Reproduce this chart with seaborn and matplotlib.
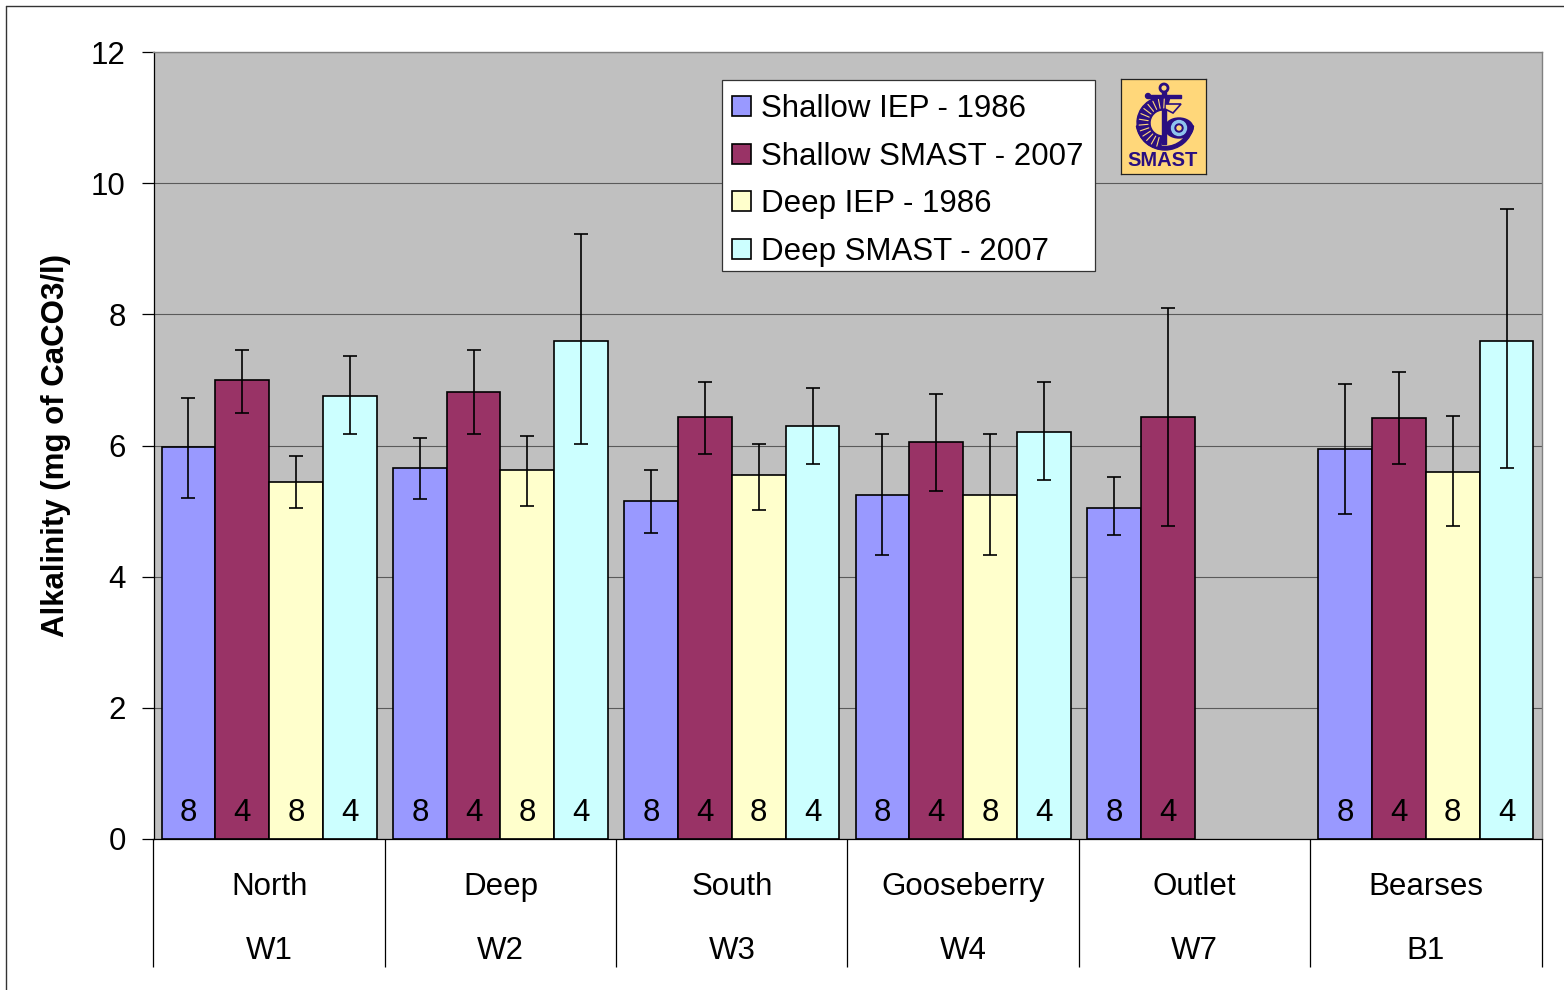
import numpy as np
import pandas as pd
import seaborn as sns
import matplotlib
matplotlib.use("Agg")
import matplotlib.pyplot as plt
from matplotlib.lines import Line2D
from matplotlib.patches import Circle, Wedge, Rectangle, Ellipse, Polygon

W, H = 1564, 990
sites = ["North\nW1", "Deep\nW2", "South\nW3", "Gooseberry\nW4", "Outlet\nW7", "Bearses\nB1"]
series = ["Shallow IEP - 1986", "Shallow SMAST - 2007", "Deep IEP - 1986", "Deep SMAST - 2007"]
colors = ["#9999FF", "#993366", "#FFFFCC", "#CCFFFF"]
nan = float("nan")
shallow_iep = [5.97, 5.66, 5.15, 5.24, 5.05, 5.94]
shallow_smast = [7.00, 6.82, 6.43, 6.05, 6.43, 6.42]
deep_iep = [5.44, 5.63, 5.55, 5.24, nan, 5.60]
deep_smast = [6.76, 7.60, 6.30, 6.20, nan, 7.60]
shallow_iep_hi = [6.73, 6.12, 5.63, 6.18, 5.52, 6.94]
shallow_smast_hi = [7.46, 7.46, 6.97, 6.79, 8.10, 7.12]
deep_iep_hi = [5.84, 6.15, 6.03, 6.18, nan, 6.45]
deep_smast_hi = [7.36, 9.23, 6.88, 6.97, nan, 9.60]
shallow_iep_lo = [5.20, 5.18, 4.66, 4.33, 4.63, 4.96]
shallow_smast_lo = [6.50, 6.17, 5.87, 5.30, 4.78, 5.72]
deep_iep_lo = [5.05, 5.08, 5.02, 4.33, nan, 4.78]
deep_smast_lo = [6.17, 6.03, 5.72, 5.47, nan, 5.66]
counts = ["8", "4", "8", "4"]

values = [shallow_iep, shallow_smast, deep_iep, deep_smast]
highs = [shallow_iep_hi, shallow_smast_hi, deep_iep_hi, deep_smast_hi]
lows = [shallow_iep_lo, shallow_smast_lo, deep_iep_lo, deep_smast_lo]

df = pd.DataFrame({
    "site": np.tile(sites, len(series)),
    "series": np.repeat(series, len(sites)),
    "value": np.concatenate(values),
})

sns.set_theme(style="white")
plt.rcParams["font.family"] = ["Liberation Sans", "DejaVu Sans"]
plt.rcParams["text.color"] = "black"
plt.rcParams["axes.labelcolor"] = "black"
plt.rcParams["xtick.labelcolor"] = "black"
plt.rcParams["ytick.labelcolor"] = "black"
FS = 22.5
fig = plt.figure(figsize=(W / 100, H / 100), dpi=100, facecolor="white")
ax = fig.add_axes([153.5 / W, 1 - 839 / H, (1542 - 154) / W, (839 - 52) / H])
ax.set_facecolor("#C0C0C0")

sns.barplot(data=df, x="site", y="value", hue="series", order=sites, hue_order=series,
            palette=colors, width=0.93, gap=0, saturation=1, errorbar=None,
            edgecolor="black", linewidth=1.2, ax=ax, zorder=2, legend=True)

for cont, val, hi, lo, n in zip(ax.containers, values, highs, lows, counts):
    bars = [p for p in cont.patches if np.isfinite(p.get_height()) and p.get_height() > 0]
    present = [i for i, v in enumerate(val) if np.isfinite(v)]
    for p, i in zip(bars, present):
        xc = p.get_x() + p.get_width() / 2
        ax.errorbar(xc, val[i], yerr=[[val[i] - lo[i]], [hi[i] - val[i]]], color="black",
                    elinewidth=1.2, capsize=5, capthick=1.2, zorder=3)
        ax.text(xc, 0.39, n, ha="center", va="center", fontsize=FS, color="black", zorder=4)

ax.set_xlim(-0.5, len(sites) - 0.5)
ax.set_ylim(0, 12)
ax.set_yticks(range(0, 13, 2))
ax.yaxis.grid(True, color="#5A5A5A", linewidth=0.8)
ax.set_axisbelow(True)
ax.set_xlabel("")
ax.set_ylabel("Alkalinity (mg of CaCO3/l)", fontsize=FS, fontweight="bold", labelpad=14)
ax.tick_params(axis="y", which="major", left=True, length=9, width=0.9, color="black",
               labelsize=FS, pad=11)
ax.set_xticks(np.arange(-0.5, len(sites)), minor=True)
ax.tick_params(axis="x", which="minor", bottom=True, length=92, width=0.9, color="black")
ax.tick_params(axis="x", which="major", bottom=False, labelsize=FS, pad=18)
for t in ax.get_xticklabels():
    t.set_linespacing(2.45)
for s in ["top", "right"]:
    ax.spines[s].set_color("#808080")
    ax.spines[s].set_linewidth(1.0)
ax.spines["left"].set_color("black")
ax.spines["bottom"].set_color("black")
for s in ["left", "bottom"]:
    ax.spines[s].set_linewidth(0.9)

# legend box is drawn apart from the entries so its height can match the reference
ax.add_patch(Rectangle((722 / W, 1 - 271 / H), 373 / W, 191 / H, transform=fig.transFigure,
                       facecolor="white", edgecolor="#333333", linewidth=0.9, zorder=5))
leg = ax.legend(loc="upper left", bbox_to_anchor=((722 - 153.5) / (1542 - 154), 1 - (84 - 52) / (839 - 52)),
                fontsize=FS, frameon=False, borderaxespad=0, handlelength=0.6, handleheight=0.6,
                handletextpad=0.33, labelspacing=0.56, borderpad=0.33)
leg.set_zorder(6)
for h in leg.get_patches():
    h.set_edgecolor("black")
    h.set_linewidth(1.2)

# outer chart border
fig.add_artist(Line2D([6 / W, 6 / W], [0, 1 - 6 / H], color="#333333", lw=1.0))
fig.add_artist(Line2D([6 / W, 1], [1 - 6 / H, 1 - 6 / H], color="#333333", lw=1.0))

# SMAST logo
lg = fig.add_axes([1121 / W, 1 - 174 / H, 85 / W, 95 / H], zorder=7)
lg.set_xlim(0, 85)
lg.set_ylim(95, 0)
lg.set_xticks([])
lg.set_yticks([])
lg.set_facecolor("#FFD77A")
for s in lg.spines.values():
    s.set_color("#222222")
    s.set_linewidth(0.9)
navy = "#2A0E80"
lg.add_patch(Circle((43, 9), 4, fill=False, ec=navy, lw=2))
lg.add_patch(Rectangle((41, 13), 3.5, 52, color=navy))
lg.add_patch(Rectangle((27, 16), 33, 2.5, color=navy))
lg.add_patch(Circle((27, 17), 2.5, color=navy))
lg.add_patch(Wedge((42, 44), 26, 95, 285, width=13, color=navy))
for a in np.arange(105, 280, 14):
    lg.plot([42 + 15 * np.cos(np.radians(a)), 42 + 24 * np.cos(np.radians(a))],
            [44 + 15 * np.sin(np.radians(a)), 44 + 24 * np.sin(np.radians(a))],
            color="#FFD77A", lw=0.8)
lg.add_patch(Wedge((44, 42), 29, 10, 170, width=3.5, color=navy))
lg.add_patch(Polygon([[44, 25], [60, 25], [52, 34], [44, 30]], facecolor="#FFD77A", edgecolor=navy, lw=1.2))
lg.add_patch(Ellipse((58, 49), 28, 20, color=navy))
lg.add_patch(Circle((58, 49), 7.5, color="#8FC5EE"))
lg.add_patch(Circle((58, 49), 4, color=navy))
lg.add_patch(Circle((58, 49), 2, color="#FFD77A"))
lg.text(42, 81, "SMAST", ha="center", va="center", fontsize=14.5, fontweight="bold", color=navy)

fig.savefig("out.png", dpi=100, facecolor="white")
